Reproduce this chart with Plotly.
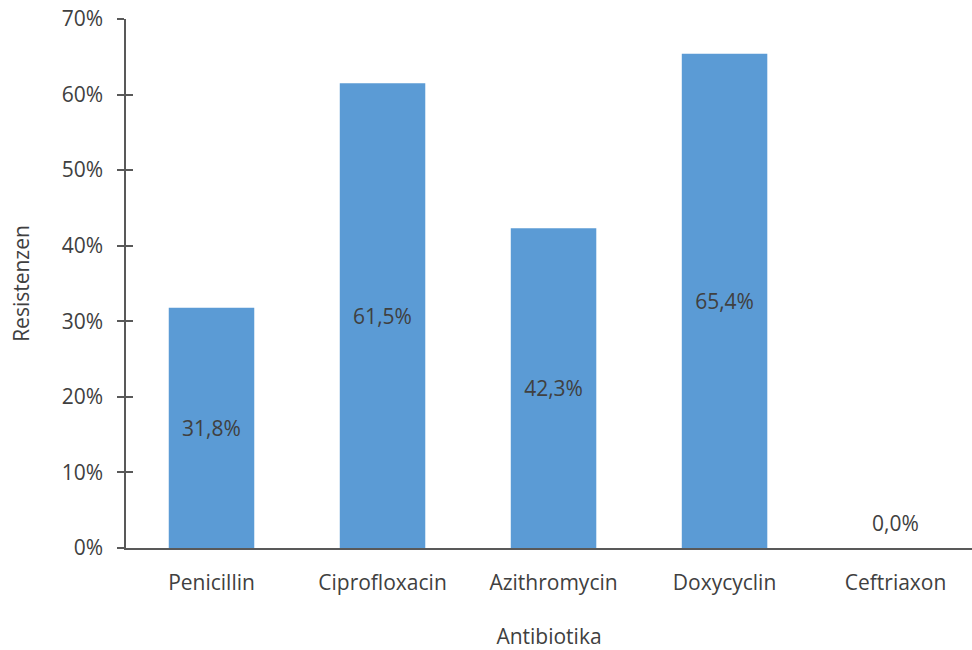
import plotly.graph_objects as go

# Resistance rates per antibiotic (fractions)
antibiotics = ["Penicillin", "Ciprofloxacin", "Azithromycin", "Doxycyclin", "Ceftriaxon"]
resistance = [0.318, 0.615, 0.423, 0.654, 0.0]
y_ticks = [0, 0.1, 0.2, 0.3, 0.4, 0.5, 0.6, 0.7]

BAR = "#5B9BD5"
TXT = "#404040"
AXIS = "#595959"
FONT = "Open Sans, Segoe UI, sans-serif"
FS = 21

positions = ["inside" if v > 0 else "none" for v in resistance]

fig = go.Figure()
fig.add_trace(go.Bar(
    x=antibiotics,
    y=resistance,
    marker=dict(color=BAR, line=dict(width=0)),
    texttemplate="%{y:.1%}",
    textposition=positions,
    insidetextanchor="middle",
    textfont=dict(family=FONT, size=FS, color=TXT),
    textangle=0,
    hoverinfo="skip",
))

# zero-height bars get their label just above the baseline
annotations = []
for name, v in zip(antibiotics, resistance):
    if v == 0:
        annotations.append(dict(
            x=name, y=v, xref="x", yref="y",
            text=f"{v * 100:.1f}%".replace(".", ","),
            showarrow=False, yanchor="middle", yshift=25,
            font=dict(family=FONT, size=FS, color=TXT),
        ))

# invisible trace on a twin axis to draw the inner half of the tick marks
fig.add_trace(go.Scatter(x=[antibiotics[0]], y=[0], yaxis="y2",
                         mode="markers", marker=dict(opacity=0),
                         hoverinfo="skip", showlegend=False))

fig.update_layout(
    width=972, height=650,
    margin=dict(l=126, r=0, t=19, b=102),
    paper_bgcolor="white", plot_bgcolor="white",
    separators=",.",
    showlegend=False,
    bargap=0.5,
    font=dict(family=FONT, size=FS, color=TXT),
    annotations=annotations,
    xaxis=dict(
        range=[-0.5, 4.447],
        showline=True, linecolor=AXIS, linewidth=1.5,
        ticks="", showgrid=False, zeroline=False,
        tickfont=dict(family=FONT, size=FS, color=TXT),
        title=dict(text="Antibiotika", font=dict(family=FONT, size=FS, color=TXT), standoff=36),
        ticklabelstandoff=15,
    ),
    yaxis=dict(
        range=[0, 0.7],
        tickvals=y_ticks, tickformat=".0%",
        showline=True, linecolor=AXIS, linewidth=1.5,
        ticks="outside", ticklen=7, tickwidth=1.5, tickcolor=AXIS,
        showgrid=False, zeroline=False,
        tickfont=dict(family=FONT, size=FS, color=TXT),
        ticklabelstandoff=10,
        title=dict(text="Resistenzen", font=dict(family=FONT, size=FS, color=TXT), standoff=26),
    ),
    yaxis2=dict(
        range=[0, 0.7], overlaying="y", side="left",
        tickvals=y_ticks, showticklabels=False,
        ticks="inside", ticklen=7, tickwidth=1.5, tickcolor=AXIS,
        showline=False, showgrid=False, zeroline=False,
    ),
)

fig.write_html("out.html")
